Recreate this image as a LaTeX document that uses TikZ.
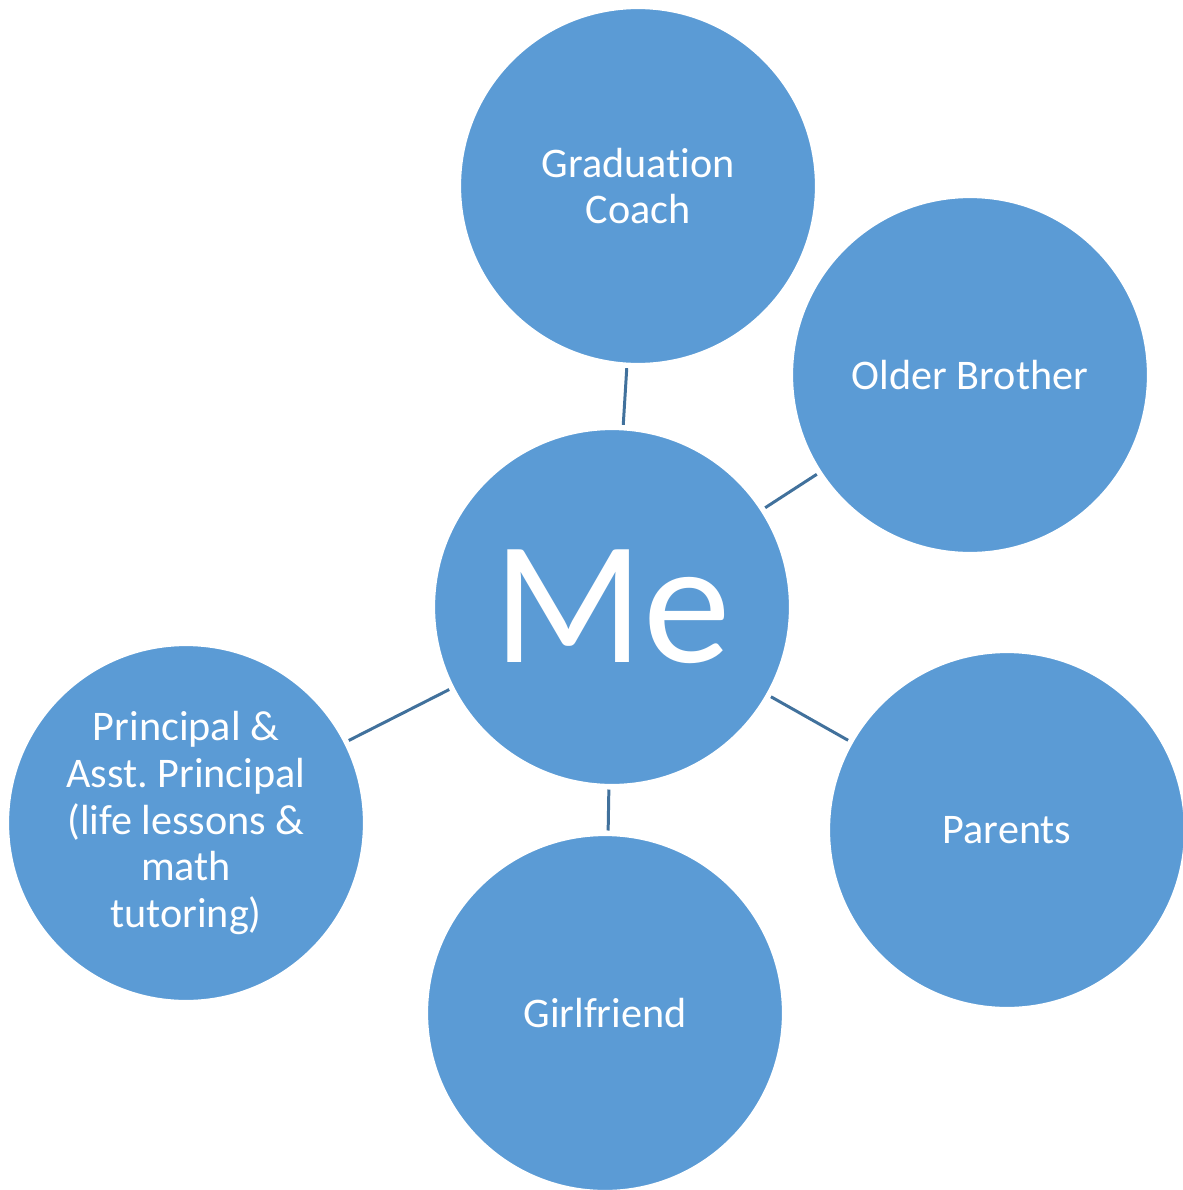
\documentclass[tikz,border=0pt]{standalone}
\usepackage{fontspec}
\setmainfont{Carlito}[Ligatures=NoCommon]
\definecolor{bubblefill}{HTML}{5B9BD5}
\definecolor{linkline}{HTML}{41719C}
\begin{document}
\begin{tikzpicture}[
    x=0.02cm, y=-0.02cm,
    bubble/.style={circle, fill=bubblefill, draw=white, line width=1.2pt, minimum size=7.12cm,
        inner sep=0pt, text=white, align=center, font=\fontsize{24}{26.6}\selectfont},
    centre/.style={bubble, font=\fontsize{100}{110}\selectfont},
    link/.style={draw=linkline, line width=1.7pt, shorten <=2pt, shorten >=2pt}
]

\useasboundingbox (0,0) rectangle (1183,1190);

\node[centre] (me) at (612, 607) {Me};

\node[bubble] (coach) at (638, 186) {Graduation\\Coach};
\node[bubble] (brother) at (970, 375) {Older Brother};
\node[bubble] (parents) at (1007, 830) {Parents};
\node[bubble] (girlfriend) at (605, 1013) {Girlfriend};
\node[bubble] (principal) at (186, 823) {Principal \&\\Asst.\ Principal\\(life lessons \&\\math\\tutoring)};

% Connections
\foreach \n in {coach, brother, parents, girlfriend, principal}
    \path[link] (me) -- (\n);

\end{tikzpicture}
\end{document}
